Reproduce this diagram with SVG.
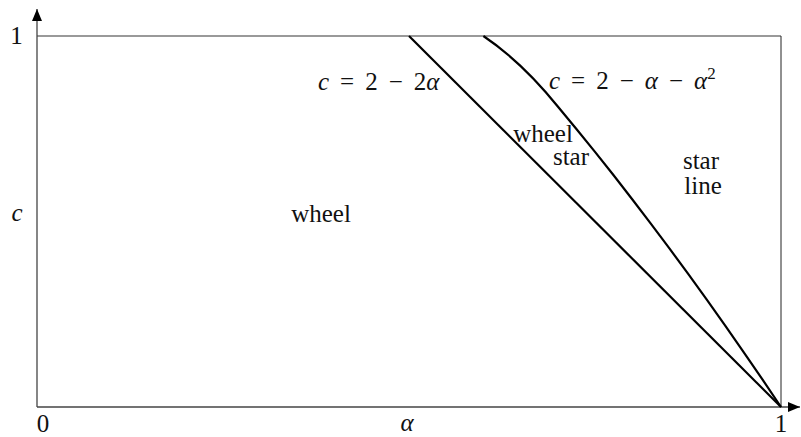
<svg xmlns="http://www.w3.org/2000/svg" width="801" height="437" viewBox="0 0 801 437">
<style>
text{font-family:'Times New Roman','Liberation Serif','DejaVu Serif',serif;font-size:25px;fill:#111}
.i{font-style:italic}
.box{fill:none;stroke:#777;stroke-width:1.6}
.ax{stroke:#444;stroke-width:1.3;fill:none}
.cv{fill:none;stroke:#000;stroke-width:2.2;stroke-linejoin:round}
</style>
<defs>
<marker id="ah" viewBox="0 0 12 10" refX="12" refY="5" markerWidth="12" markerHeight="10" markerUnits="userSpaceOnUse" orient="auto">
<path d="M0,0 L12,5 L0,10 Z" fill="#000"/>
</marker>
</defs>
<rect width="801" height="437" fill="#fff"/>
<g id="frame">
<line class="box" x1="37" y1="36" x2="781" y2="36"/>
<line x1="781" y1="36" x2="781" y2="407" stroke="#222" stroke-width="1"/>
<line class="ax" x1="37" y1="407" x2="37" y2="9" marker-end="url(#ah)"/>
<line class="ax" x1="37" y1="407" x2="800" y2="407" stroke="#666" marker-end="url(#ah)"/>
</g>
<g id="curves">
<line class="cv" x1="409" y1="36" x2="781" y2="407"/>
<path class="cv" d="M483.4,36 Q522,62 557.8,106.5 L576.4,129 L595,151.9 L613.6,175.3 L632.2,199.2 L650.8,223.6 L669.4,248.4 L688,273.7 L706.6,299.4 L725.2,325.6 L743.8,352.3 L762.4,379.4 L781,407"/>
</g>
<g id="labels">
<text x="16.5" y="44" text-anchor="middle">1</text>
<text class="i" x="17" y="221" text-anchor="middle">c</text>
<text x="43" y="432" text-anchor="middle">0</text>
<text class="i" x="407" y="431" text-anchor="middle">α</text>
<text x="781" y="432" text-anchor="middle">1</text>
<text x="318" y="90"><tspan class="i">c</tspan><tspan dx="11">=</tspan><tspan dx="11">2</tspan><tspan dx="11">−</tspan><tspan dx="11">2</tspan><tspan class="i">α</tspan></text>
<text x="549" y="89"><tspan class="i">c</tspan><tspan dx="11">=</tspan><tspan dx="11">2</tspan><tspan dx="11">−</tspan><tspan dx="11" class="i">α</tspan><tspan dx="11">−</tspan><tspan dx="11" class="i">α</tspan><tspan font-size="17" dy="-10">2</tspan></text>
<text x="543" y="142" text-anchor="middle">wheel</text>
<text x="571" y="165" text-anchor="middle">star</text>
<text x="701" y="169" text-anchor="middle">star</text>
<text x="703" y="194" text-anchor="middle">line</text>
<text x="321" y="222" text-anchor="middle">wheel</text>
</g>
</svg>
